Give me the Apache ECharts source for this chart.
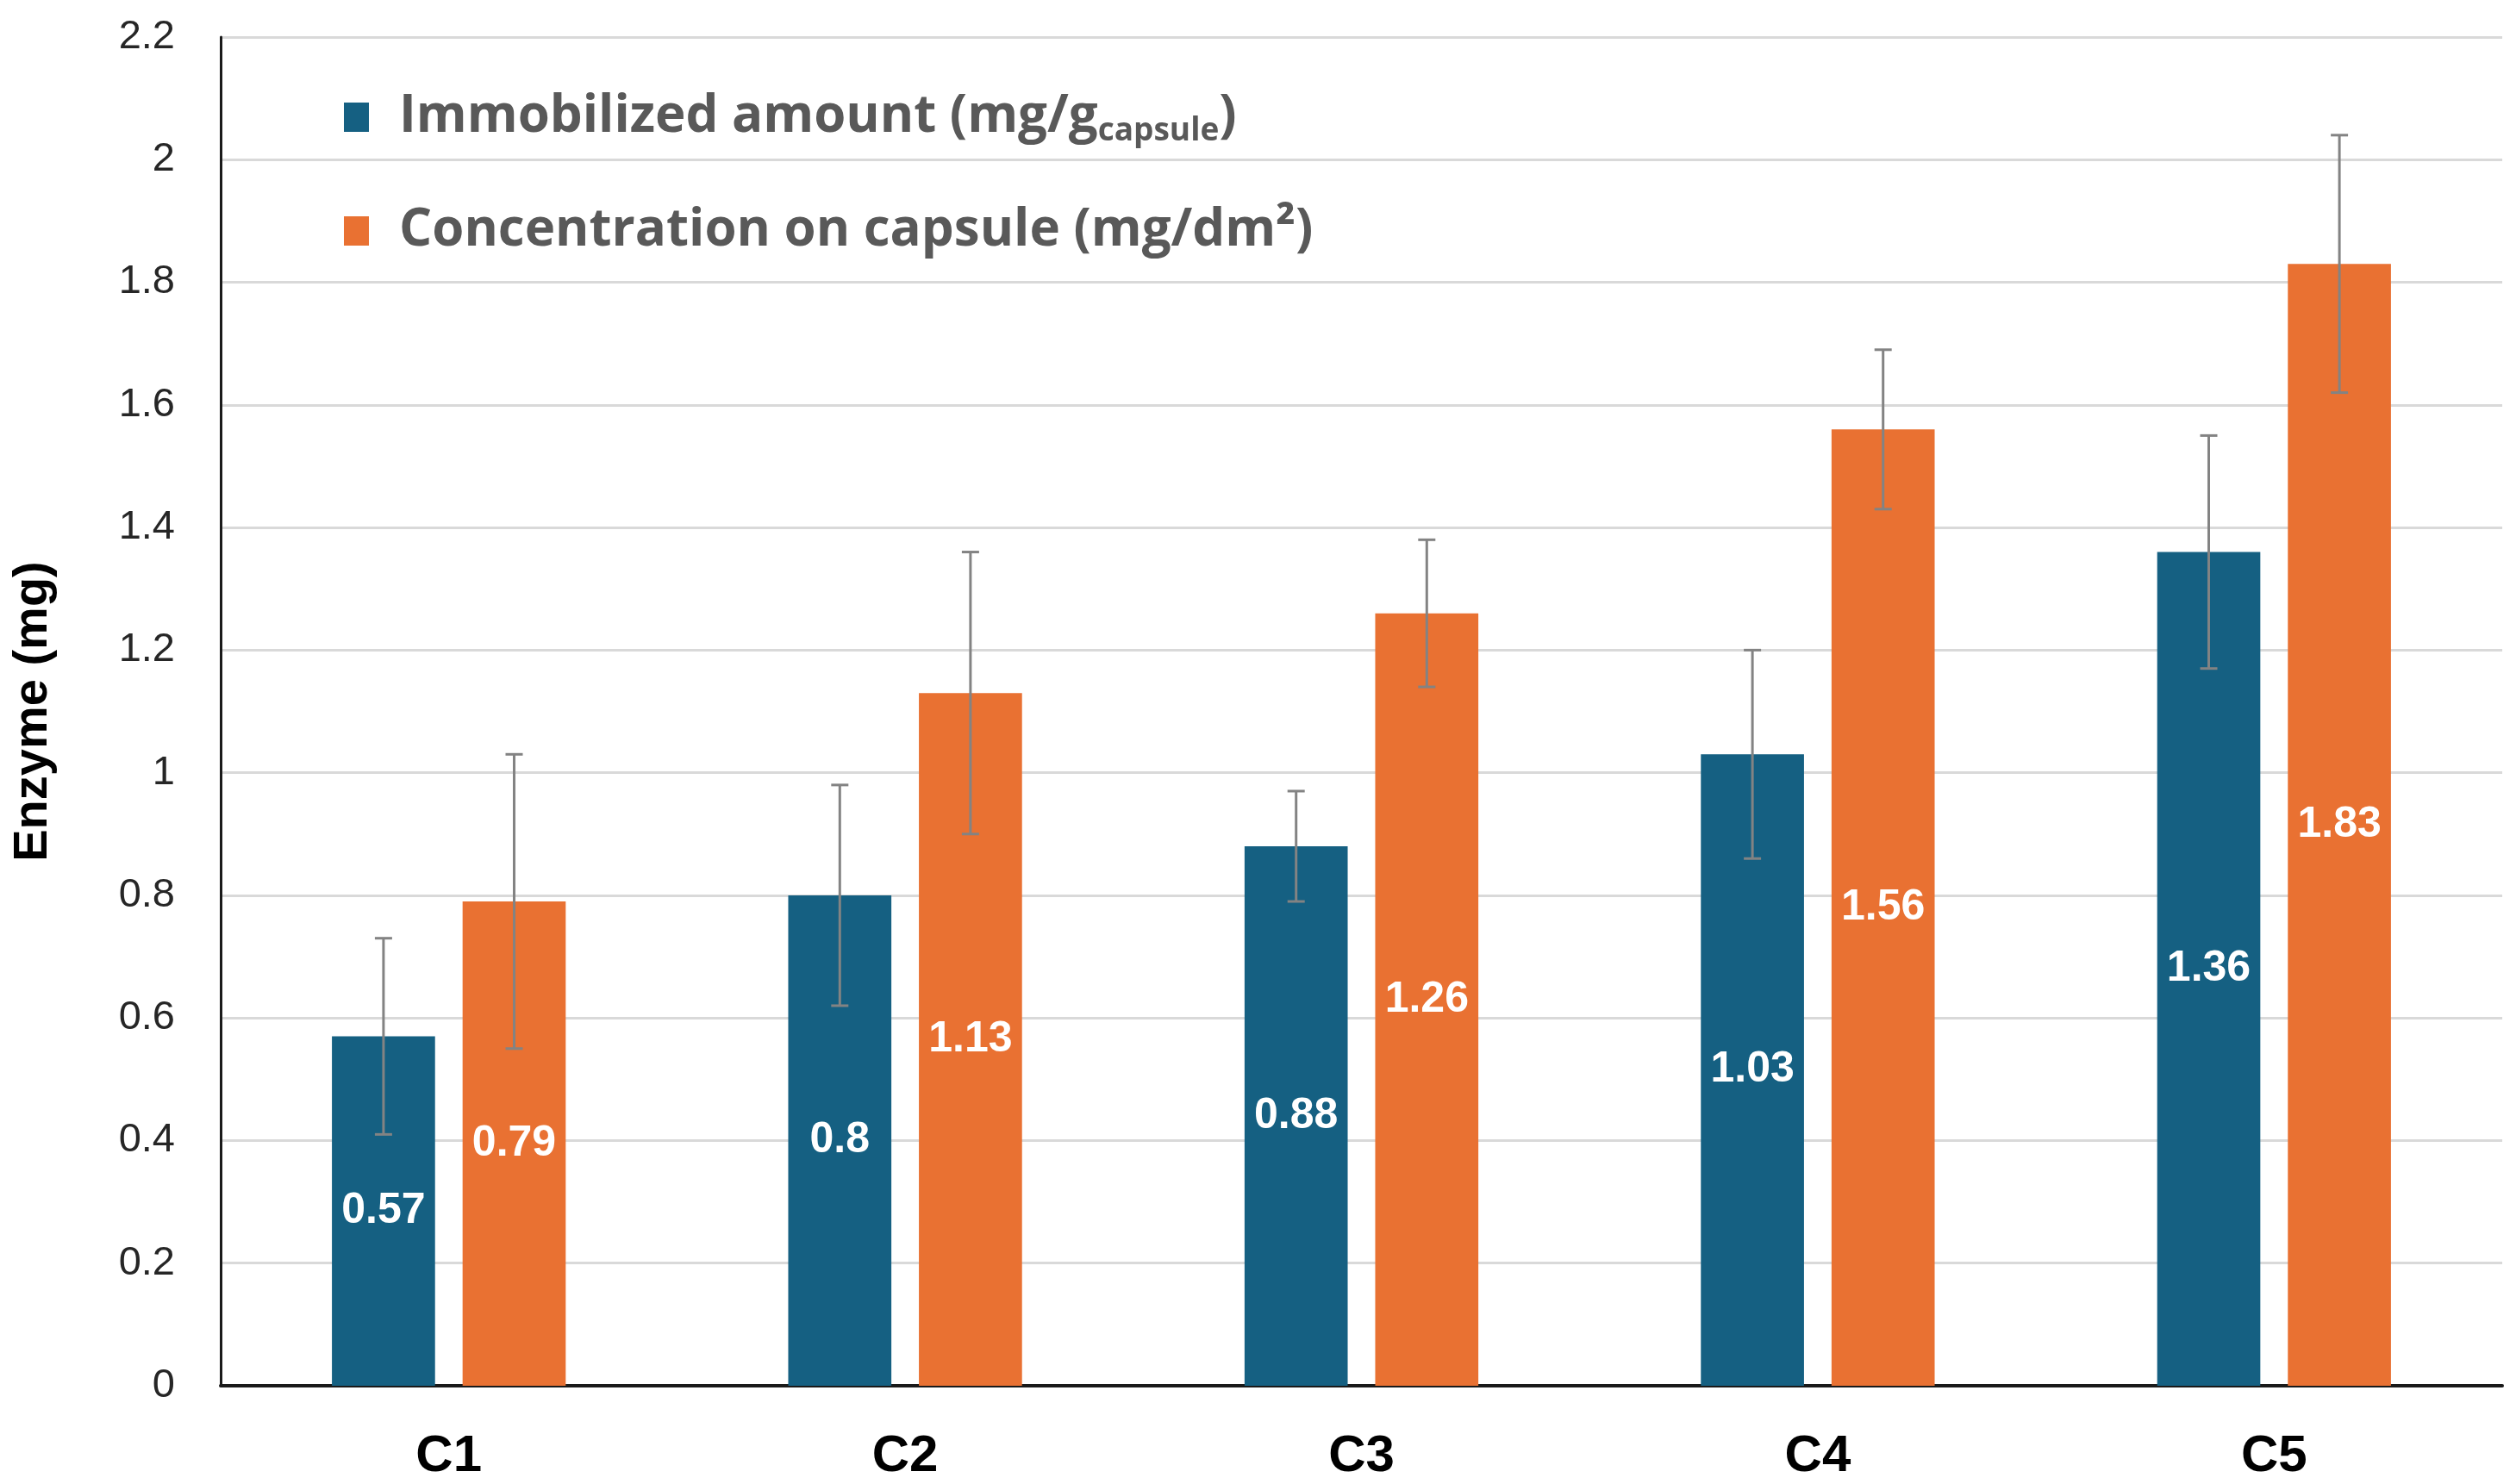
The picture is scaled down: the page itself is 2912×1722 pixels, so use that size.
<!DOCTYPE html>
<html>
<head>
<meta charset="utf-8">
<script src="https://cdn.jsdelivr.net/npm/echarts@6/dist/echarts.min.js"></script>
<style>
html,body{margin:0;padding:0;background:#fff;}
#chart{width:2912px;height:1722px;}
</style>
</head>
<body>
<div id="chart"></div>
<script>
const categories = ['C1', 'C2', 'C3', 'C4', 'C5'];
const immobilized = [0.57, 0.8, 0.88, 1.03, 1.36];
const concentration = [0.79, 1.13, 1.26, 1.56, 1.83];
const immobilizedErr = [0.16, 0.18, 0.09, 0.17, 0.19];
const concentrationErr = [0.24, 0.23, 0.12, 0.13, 0.21];
const yTicks = [0, 0.2, 0.4, 0.6, 0.8, 1, 1.2, 1.4, 1.6, 1.8, 2, 2.2];

const BLUE = '#156082', ORANGE = '#E97132';
const BAR_FRAC = 0.226, GAP_FRAC = 0.267;
const FONT = '"Liberation Sans", Arial, sans-serif';

function errData(vals, errs) {
  return vals.map((v, i) => [i, v - errs[i], v + errs[i]]);
}
function errRender(sign) {
  return function (params, api) {
    const idx = api.value(0);
    const band = api.size([1, 0])[0];
    const barW = band * BAR_FRAC;
    const off = sign * barW * (1 + GAP_FRAC) / 2;
    const cx = api.coord([idx, 0])[0] + off;
    const yLo = api.coord([idx, api.value(1)])[1];
    const yHi = api.coord([idx, api.value(2)])[1];
    const hw = 10;
    const st = { stroke: '#838383', lineWidth: 3 };
    return {
      type: 'group',
      children: [
        { type: 'line', shape: { x1: cx, y1: yLo, x2: cx, y2: yHi }, style: st },
        { type: 'line', shape: { x1: cx - hw, y1: yHi, x2: cx + hw, y2: yHi }, style: st },
        { type: 'line', shape: { x1: cx - hw, y1: yLo, x2: cx + hw, y2: yLo }, style: st }
      ]
    };
  };
}

const chart = echarts.init(document.getElementById('chart'), null, { renderer: 'canvas' });
const LFONT = '"Open Sans", sans-serif';
const legendRich = {
  gap: { width: 30 },
  a: { fontSize: 60, lineHeight: 70, fontWeight: 'bold', color: '#595959', fontFamily: LFONT },
  sub: { fontSize: 37, lineHeight: 30, verticalAlign: 'bottom', fontWeight: 'bold', color: '#595959', fontFamily: LFONT }
};
chart.setOption({
  animation: false,
  backgroundColor: '#ffffff',
  grid: { left: 256, right: 9, top: 43, bottom: 114, containLabel: false },
  legend: {
    orient: 'vertical',
    left: 399,
    top: 106,
    padding: 0,
    itemGap: 67,
    itemWidth: 29,
    itemHeight: 34,
    icon: 'rect',
    selectedMode: false,
    data: ['Immobilized amount', 'Concentration on capsule'],
    formatter: function (name) {
      if (name === 'Immobilized amount') return '{gap|}{a|Immobilized amount (mg/g}{sub|capsule}{a|)}';
      return '{gap|}{a|Concentration on capsule (mg/dm²)}';
    },
    textStyle: { rich: legendRich, color: '#595959' }
  },
  xAxis: {
    type: 'category',
    data: categories,
    axisLine: { lineStyle: { color: '#1a1a1a', width: 4 } },
    axisTick: { show: false },
    axisLabel: { fontSize: 60, fontWeight: 'bold', color: '#000', fontFamily: FONT, margin: 52 }
  },
  yAxis: {
    type: 'value',
    min: 0,
    max: 2.2,
    interval: 0.2,
    name: 'Enzyme (mg)',
    nameLocation: 'middle',
    nameRotate: 90,
    nameGap: 189,
    nameTextStyle: { fontSize: 56, fontWeight: 'bold', color: '#000', fontFamily: FONT },
    axisLine: { show: true, lineStyle: { color: '#1a1a1a', width: 3 } },
    axisTick: { show: false },
    axisLabel: {
      fontSize: 47, color: '#262626', fontFamily: FONT, margin: 53,
      formatter: function (v) {
        const t = yTicks.find(x => Math.abs(x - v) < 1e-6);
        return String(t !== undefined ? t : +v.toFixed(1));
      }
    },
    splitLine: { lineStyle: { color: '#D9D9D9', width: 3 } }
  },
  series: [
    {
      name: 'Immobilized amount',
      type: 'bar',
      data: immobilized,
      barWidth: (BAR_FRAC * 100) + '%',
      barGap: (GAP_FRAC * 100) + '%',
      itemStyle: { color: BLUE },
      label: { show: true, position: 'inside', color: '#fff', fontSize: 50, fontWeight: 'bold', fontFamily: FONT }
    },
    {
      name: 'Concentration on capsule',
      type: 'bar',
      data: concentration,
      barWidth: (BAR_FRAC * 100) + '%',
      barGap: (GAP_FRAC * 100) + '%',
      itemStyle: { color: ORANGE },
      label: { show: true, position: 'inside', color: '#fff', fontSize: 50, fontWeight: 'bold', fontFamily: FONT }
    },
    {
      type: 'custom',
      name: 'errImmobilized',
      renderItem: errRender(-1),
      data: errData(immobilized, immobilizedErr),
      encode: { x: 0, y: [1, 2] },
      z: 5,
      silent: true
    },
    {
      type: 'custom',
      name: 'errConcentration',
      renderItem: errRender(1),
      data: errData(concentration, concentrationErr),
      encode: { x: 0, y: [1, 2] },
      z: 5,
      silent: true
    }
  ]
});
</script>
</body>
</html>
